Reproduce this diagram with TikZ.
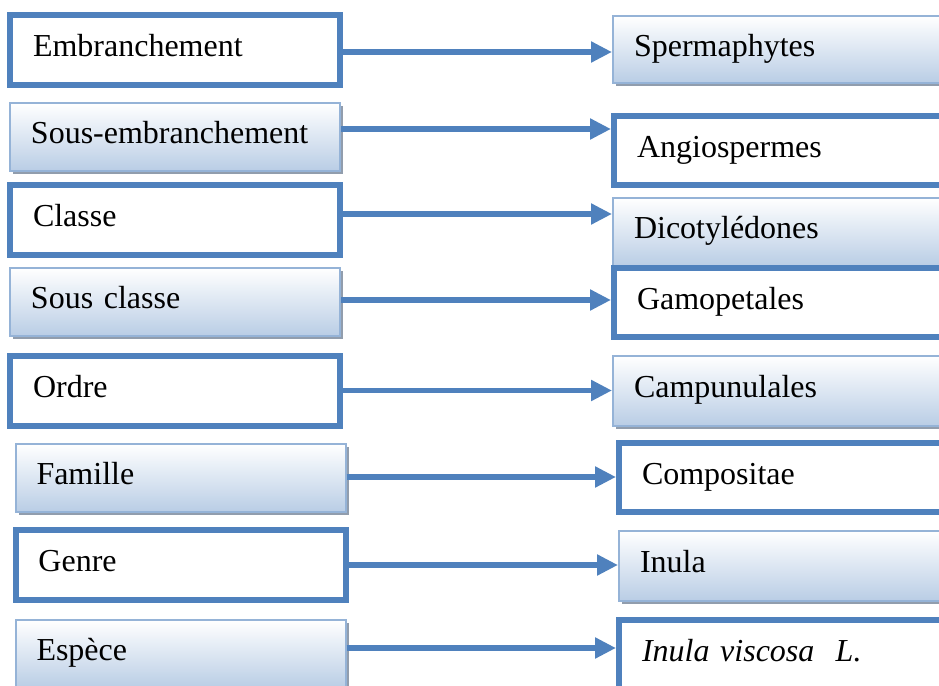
\documentclass[tikz,border=0pt]{standalone}
\usepackage{fontspec}
\setmainfont{Liberation Serif}
\usetikzlibrary{arrows.meta,shadows}
\definecolor{mainblue}{RGB}{79,129,189}
\definecolor{lineblue}{RGB}{149,179,215}
\definecolor{shadeblue}{RGB}{185,205,229}
\definecolor{shadowgray}{RGB}{145,157,173}
\tikzstyle{rank}=[rectangle, align=left, anchor=center, text height=11pt, text depth=4.3pt, font=\fontsize{16}{19}\selectfont]
\tikzstyle{framebox}=[rank, draw=mainblue, line width=3pt, fill=white, inner xsep=11.5pt, minimum height=35pt]
\tikzstyle{shadebox}=[rank, draw=lineblue, line width=1pt, top color=white, bottom color=shadeblue, inner xsep=10.5pt, minimum height=34pt,
  drop shadow={shadow xshift=1.5pt, shadow yshift=-1.5pt, fill=shadowgray, opacity=1}]
\tikzstyle{lframe}=[framebox, text width=142pt]
\tikzstyle{lshade}=[shadebox, text width=144pt]
\tikzstyle{rframe}=[framebox, text width=152pt]
\tikzstyle{rshade}=[shadebox, text width=154pt]
\tikzstyle{link}=[draw=mainblue, line width=2.8pt, -{Triangle[length=10.5pt, width=10pt]}]
\begin{document}
\begin{tikzpicture}[x=0.5pt, y=-0.5pt]
	\useasboundingbox (0,0) rectangle (939,686);
	\clip (0,0) rectangle (939,686);

	% left column: ranks
	\node[lframe] (l1) at (175,50) {Embranchement};
	\node[lshade] (l2) at (175,137) {Sous-embranchement};
	\node[lframe] (l3) at (175,220) {Classe};
	\node[lshade] (l4) at (175,302) {Sous classe};
	\node[lframe] (l5) at (175,390.5) {Ordre};
	\node[lshade] (l6) at (180.5,478) {Famille};
	\node[lframe] (l7) at (180.5,565) {Genre};
	\node[lshade] (l8) at (180.5,654) {Espèce};

	% right column: taxa
	\node[rshade, minimum height=33.5pt] (r1) at (788,49.5) {Spermaphytes};
	\node[rframe, minimum height=34.5pt] (r2) at (789,150.5) {Angiospermes};
	\node[rshade] (r3) at (788,232) {Dicotylédones};
	\node[rframe, minimum height=34.5pt] (r4) at (789,302.5) {Gamopetales};
	\node[rshade, minimum height=35pt] (r5) at (788,391) {Campunulales};
	\node[rframe, minimum height=34.5pt] (r6) at (794,477.5) {Compositae};
	\node[rshade, minimum height=35pt] (r7) at (794,566) {Inula};
	\node[rframe] (r8) at (794,655) {\textit{Inula viscosa\ \ L.}};

	% arrows
	\foreach \i/\dy in {1/-1pt,2/4pt,3/3pt,4/1pt,5/0pt,6/0.5pt,7/0pt,8/3pt}
		\draw[link] ([yshift=\dy]l\i.east) -- ([yshift=\dy]l\i.east -| r\i.west);

\end{tikzpicture}
\end{document}
